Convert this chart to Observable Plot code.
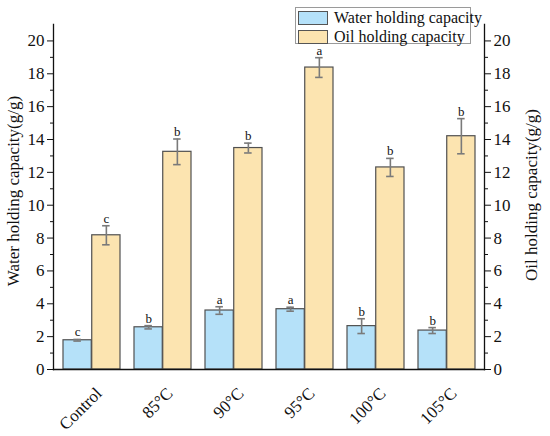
<!DOCTYPE html>
<html>
<head>
<meta charset="utf-8">
<script src="https://cdn.jsdelivr.net/npm/d3@7"></script>
<script src="https://cdn.jsdelivr.net/npm/@observablehq/plot@0.6"></script>
<style>
  body { margin: 0; background: #fff; }
  #wrap { position: relative; width: 550px; height: 436px; font-family: "Liberation Serif", "DejaVu Serif", serif; }
  #chart svg, #chart svg text, #chart svg g { font-family: "Liberation Serif", "DejaVu Serif", serif !important; }
  #legend { position: absolute; left: 295px; top: 7px; width: 176px; height: 37px; border: 1px solid #9a9a9a; background: #fff; box-sizing: border-box; }
  .item { position: absolute; left: 2px; height: 15px; display: flex; align-items: center; font-size: 16px; color: #111; white-space: nowrap; font-family: "Liberation Serif", "DejaVu Serif", serif; }
  .sw { width: 30px; height: 14px; border: 1px solid #555; box-sizing: border-box; margin-right: 6px; }
</style>
</head>
<body>
<div id="wrap">
  <div id="chart"></div>
  <div id="legend"></div>
</div>
<script>
const categories = ["Control", "85°C", "90°C", "95°C", "100°C", "105°C"];
const waterMean = [1.78, 2.57, 3.59, 3.67, 2.64, 2.37];
const waterErr = [0.05, 0.10, 0.23, 0.12, 0.45, 0.18];
const waterLetters = ["c", "b", "a", "a", "b", "b"];
const oilMean = [8.17, 13.25, 13.48, 18.38, 12.30, 14.20];
const oilErr = [0.58, 0.78, 0.30, 0.60, 0.55, 1.07];
const oilLetters = ["c", "b", "b", "a", "b", "b"];
const majorTicks = [0, 2, 4, 6, 8, 10, 12, 14, 16, 18, 20];
const minorTicks = [1, 3, 5, 7, 9, 11, 13, 15, 17, 19];
const seriesNames = ["Water holding capacity", "Oil holding capacity"];
const seriesColors = ["#b5e1f9", "#fce4b0"];

const water = categories.map((c, i) => ({cat: c, v: waterMean[i], lo: waterMean[i] - waterErr[i], hi: waterMean[i] + waterErr[i], letter: waterLetters[i]}));
const oil = categories.map((c, i) => ({cat: c, v: oilMean[i], lo: oilMean[i] - oilErr[i], hi: oilMean[i] + oilErr[i], letter: oilLetters[i]}));

const W = 550, H = 436, mL = 53, mR = 66, mT = 24, mB = 67;
const step = (W - mL - mR) / categories.length;
const bw = step * 0.8;
const half = bw / 2;
const q = half / 2;
const capW = 8;

const barStroke = "#505050";
const errColor = "#7a7a7a";
const serif = "Liberation Serif, DejaVu Serif, serif";

const chart = Plot.plot({
  width: W,
  height: H,
  marginLeft: mL,
  marginRight: mR,
  marginTop: mT,
  marginBottom: mB,
  style: {fontFamily: serif, fontSize: "16px", color: "#111", background: "#fff"},
  x: {domain: categories, paddingInner: 0.2, paddingOuter: 0.1, axis: null},
  y: {domain: [0, 21], axis: null},
  marks: [
    Plot.barY(water, {x: "cat", y: "v", fill: seriesColors[0], stroke: barStroke, strokeWidth: 1.2, insetRight: half}),
    Plot.barY(oil, {x: "cat", y: "v", fill: seriesColors[1], stroke: barStroke, strokeWidth: 1.2, insetLeft: half}),
    Plot.ruleX(water, {x: "cat", y1: "lo", y2: "hi", dx: -q, stroke: errColor, strokeWidth: 1.6}),
    Plot.ruleX(oil, {x: "cat", y1: "lo", y2: "hi", dx: q, stroke: errColor, strokeWidth: 1.6}),
    Plot.tickY(water, {x: "cat", y: "hi", insetLeft: q - capW / 2, insetRight: bw - q - capW / 2, stroke: errColor, strokeWidth: 1.6}),
    Plot.tickY(water, {x: "cat", y: "lo", insetLeft: q - capW / 2, insetRight: bw - q - capW / 2, stroke: errColor, strokeWidth: 1.6}),
    Plot.tickY(oil, {x: "cat", y: "hi", insetLeft: bw - q - capW / 2, insetRight: q - capW / 2, stroke: errColor, strokeWidth: 1.6}),
    Plot.tickY(oil, {x: "cat", y: "lo", insetLeft: bw - q - capW / 2, insetRight: q - capW / 2, stroke: errColor, strokeWidth: 1.6}),
    Plot.text(water, {x: "cat", y: "hi", text: "letter", dx: -q, dy: -3, lineAnchor: "bottom", fontSize: 13, fill: "#111", fontFamily: serif}),
    Plot.text(oil, {x: "cat", y: "hi", text: "letter", dx: q, dy: -3, lineAnchor: "bottom", fontSize: 13, fill: "#111", fontFamily: serif}),
    Plot.axisY({anchor: "left", ticks: majorTicks, tickSize: 6, tickPadding: 3, label: null, fontSize: 17, fontFamily: serif}),
    Plot.axisY({anchor: "left", ticks: minorTicks, tickSize: 3, tickFormat: () => "", label: null}),
    Plot.axisY({anchor: "right", ticks: majorTicks, tickSize: 6, tickPadding: 3, label: null, fontSize: 17, fontFamily: serif}),
    Plot.axisY({anchor: "right", ticks: minorTicks, tickSize: 3, tickFormat: () => "", label: null}),
    Plot.axisX({anchor: "bottom", tickSize: 0, tickRotate: -45, tickPadding: 0, dx: 7, dy: 21, label: null, fontSize: 17, fontFamily: serif}),
    Plot.frame({anchor: "left", stroke: "#111", strokeWidth: 1.3}),
    Plot.frame({anchor: "right", stroke: "#111", strokeWidth: 1.3}),
    Plot.frame({anchor: "bottom", stroke: "#111", strokeWidth: 1.3}),
    Plot.text(["Water holding capacity(g/g)"], {frameAnchor: "left", textAnchor: "middle", dx: -40, dy: -6, rotate: -90, fontSize: 17, fill: "#111", fontFamily: serif}),
    Plot.text(["Oil holding capacity(g/g)"], {frameAnchor: "right", textAnchor: "middle", dx: 47, dy: -2, rotate: -90, fontSize: 17, fill: "#111", fontFamily: serif})
  ]
});
document.getElementById("chart").appendChild(chart);

const legend = document.getElementById("legend");
seriesNames.forEach((name, i) => {
  const item = document.createElement("div");
  item.className = "item";
  item.style.top = (i === 0 ? 2 : 21) + "px";
  const sw = document.createElement("div");
  sw.className = "sw";
  sw.style.background = seriesColors[i];
  const label = document.createElement("span");
  label.textContent = name;
  item.appendChild(sw);
  item.appendChild(label);
  legend.appendChild(item);
});
</script>
</body>
</html>
